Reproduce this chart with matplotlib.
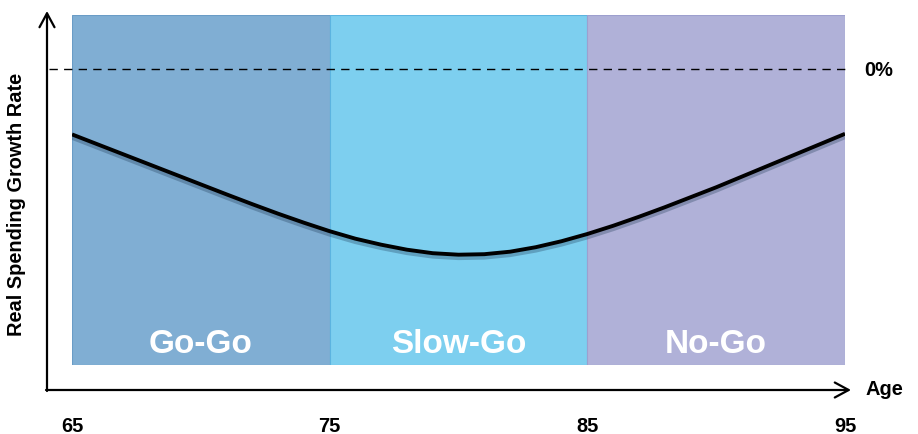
import matplotlib
matplotlib.use("Agg")
import matplotlib.pyplot as plt
import matplotlib.patheffects as pe
from matplotlib.patches import FancyArrowPatch

plt.rcParams['font.family'] = ['Liberation Sans', 'DejaVu Sans']
plt.rcParams['font.weight'] = 'bold'

# retirement spending phases
phases = ['Go-Go', 'Slow-Go', 'No-Go']
phase_starts = [65, 75, 85]
phase_ends = [75, 85, 95]
phase_colors = ['#80aed3', '#7dcfef', '#b0b1d8']
phase_edges = ['#6a9cc6', '#5cb4e0', '#9d9fce']

# real spending growth rate by age (%, relative to the 0% line)
ages = list(range(65, 96))
growth = [-0.654, -0.754, -0.854, -0.954, -1.054, -1.154, -1.254, -1.352, -1.447, -1.537,
          -1.622, -1.697, -1.757, -1.807, -1.842, -1.857, -1.852, -1.827, -1.782, -1.722,
          -1.650, -1.568, -1.478, -1.383, -1.283, -1.183, -1.076, -0.969, -0.862, -0.755,
          -0.648]

tick_ages = [65, 75, 85, 95]

W, H = 918, 435
fig = plt.figure(figsize=(W / 100, H / 100), dpi=100)
ax = fig.add_axes([72 / W, (H - 366) / H, (845 - 72) / W, 350 / H])
ax.set_xlim(65, 95)
ax.set_ylim(-2.96, 0.54)
ax.axis('off')


def fx(px):
    return px / W


def fy(py):
    return 1 - py / H


for name, x0, x1, c, ec in zip(phases, phase_starts, phase_ends, phase_colors, phase_edges):
    ax.axvspan(x0, x1, color=c, ec=ec, lw=0.8, zorder=1)
    ax.text((x0 + x1) / 2, -2.83, name, color='white', fontsize=24,
            fontweight='bold', ha='center', va='baseline', zorder=4)

# zero-growth reference line
ax.plot([64.1, 95], [0, 0], color='black', lw=1, ls=(0, (6, 4.5)),
        clip_on=False, zorder=3)

ax.plot(ages, growth, color='black', lw=2.8, solid_capstyle='butt',
        solid_joinstyle='round', zorder=5,
        path_effects=[pe.SimpleLineShadow(offset=(0, -2.5), shadow_color='#1a3550',
                                          alpha=0.3),
                      pe.Normal()])

# axis arrows
arrow_kw = dict(transform=fig.transFigure, arrowstyle='->,head_length=0.5,head_width=0.27',
                mutation_scale=20, color='black', lw=1.6, shrinkA=0, shrinkB=0)
fig.add_artist(FancyArrowPatch((fx(47), fy(392)), (fx(47), fy(12)), **arrow_kw))
fig.add_artist(FancyArrowPatch((fx(46), fy(391)), (fx(851), fy(391)), **arrow_kw))

for a in tick_ages:
    x_px = 72 + (a - 65) * (845 - 72) / 30
    fig.text(fx(x_px), fy(432), str(a), fontsize=14.4, ha='center', va='baseline')

fig.text(fx(866), fy(395), 'Age', fontsize=14.4, ha='left', va='baseline')
fig.text(fx(864), fy(76), '0%', fontsize=14.4, ha='left', va='baseline')
fig.text(fx(17), fy(204), 'Real Spending Growth Rate', fontsize=14.4,
         rotation=90, ha='center', va='center')

fig.savefig('out.png', dpi=100)
